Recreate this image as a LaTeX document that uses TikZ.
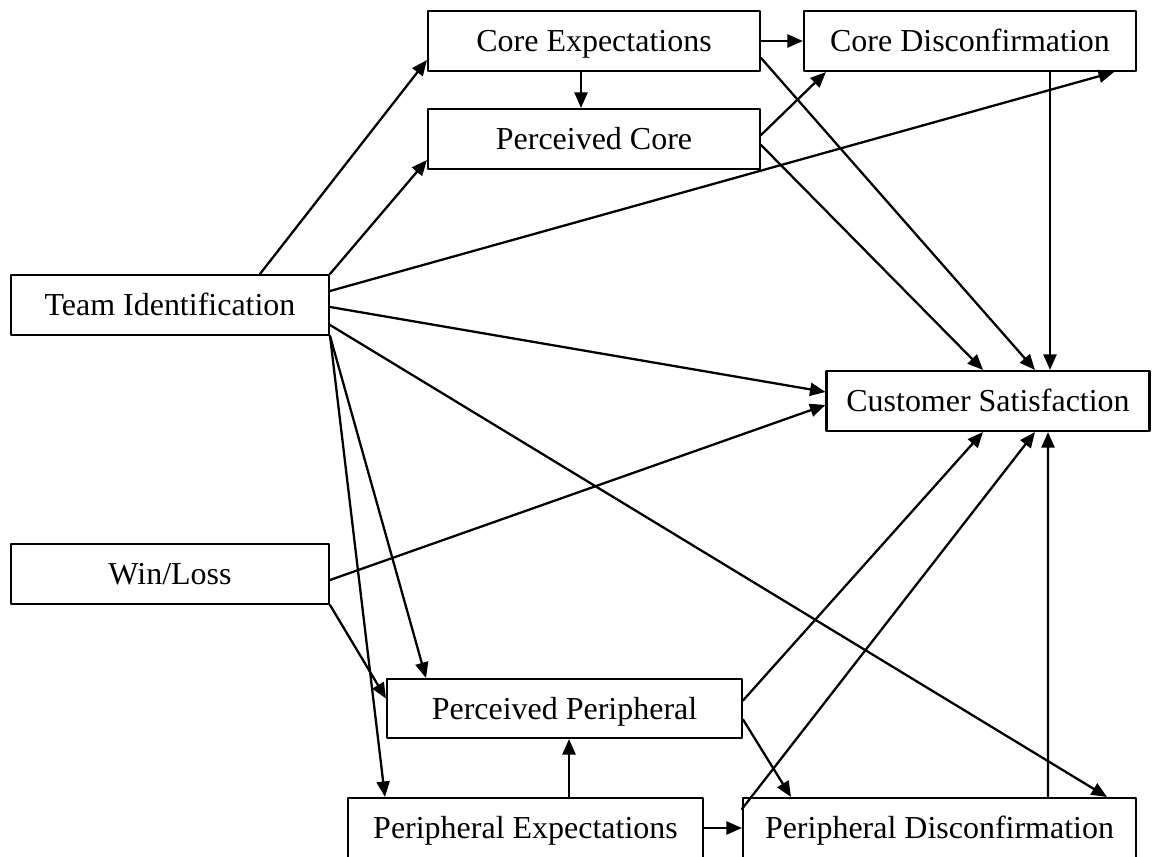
\documentclass[tikz,border=0pt]{standalone}
\usepackage{fontspec}
\setmainfont{Liberation Serif}
\usetikzlibrary{arrows.meta,calc}
\begin{document}
\begin{tikzpicture}[x=0.02cm,y=-0.02cm,line cap=round,line join=round,
  box/.style={draw,line width=1.2pt,minimum height=1.2cm,inner sep=0pt,text height=16pt,text depth=3.5pt,font=\fontsize{18.2}{20}\selectfont},
  link/.style={line width=1.3pt,-{Triangle[length=0.31cm,width=0.26cm]}}]
  \useasboundingbox (0,0) rectangle (1159,857);
  \node[box,minimum width=6.64cm] (coreexp) at (594,41) {Core Expectations};
  \node[box,minimum width=6.64cm] (coredisc) at (970,41) {Core Disconfirmation};
  \node[box,minimum width=6.64cm] (perccore) at (594,139) {Perceived Core};
  \node[box,minimum width=6.36cm] (teamid) at (170,305) {Team Identification};
  \node[box,minimum width=6.46cm] (custsat) at (988,401) {Customer Satisfaction};
  \node[box,minimum width=6.36cm] (winloss) at (170,574) {Win/Loss};
  \node[box,minimum width=7.1cm,minimum height=1.18cm] (percper) at (564.5,708.5) {Perceived Peripheral};
  \node[box,minimum width=7.1cm] (perexp) at (525.5,828) {Peripheral Expectations};
  \node[box,minimum width=7.86cm] (perdisc) at (939.5,828) {Peripheral Disconfirmation};

  \draw[link] ($(teamid.north)+(90,0)$) -- ($(coreexp.west)+(0,19)$);
  \draw[link] (teamid.north east) -- ($(perccore.west)+(0,21)$);
  \draw[link] ($(teamid.east)+(0,-14)$) -- ($(coredisc.south east)+(-23,0)$);
  \draw[link] ($(teamid.east)+(0,2)$) -- ($(custsat.west)+(0,-9)$);
  \draw[link] ($(teamid.east)+(0,20)$) -- ($(perdisc.north east)+(-30,0)$);
  \draw[link] (teamid.south east) -- ($(percper.north west)+(40,0)$);
  \draw[link] (teamid.south east) -- ($(perexp.north west)+(38,0)$);
  \draw[link] (coreexp.east) -- (coredisc.west);
  \draw[link] ($(coreexp.south)+(-13,0)$) -- ($(perccore.north)+(-13,0)$);
  \draw[link] ($(perccore.east)+(0,-4)$) -- ($(coredisc.south west)+(23,0)$);
  \draw[link] ($(coreexp.east)+(0,17)$) -- ($(custsat.north)+(47,0)$);
  \draw[link] ($(perccore.east)+(0,6)$) -- ($(custsat.north)+(-5,0)$);
  \draw[link] ($(coredisc.south)+(80,0)$) -- ($(custsat.north)+(62,0)$);
  \draw[link] ($(winloss.east)+(0,6)$) -- ($(custsat.west)+(0,4)$);
  \draw[link] (winloss.south east) -- ($(percper.west)+(0,-10)$);
  \draw[link] ($(percper.east)+(0,-8)$) -- ($(custsat.south)+(-5,0)$);
  \draw[link] ($(perdisc.north west)+(0,12)$) -- ($(custsat.south)+(47,0)$);
  \draw[link] ($(percper.east)+(0,11)$) -- ($(perdisc.north west)+(49,0)$);
  \draw[link] ($(perexp.north)+(43.5,0)$) -- ($(percper.south)+(4.5,0)$);
  \draw[link] (perexp.east) -- (perdisc.west);
  \draw[link] ($(perdisc.north)+(108.5,0)$) -- ($(custsat.south)+(60,0)$);
\end{tikzpicture}
\end{document}
